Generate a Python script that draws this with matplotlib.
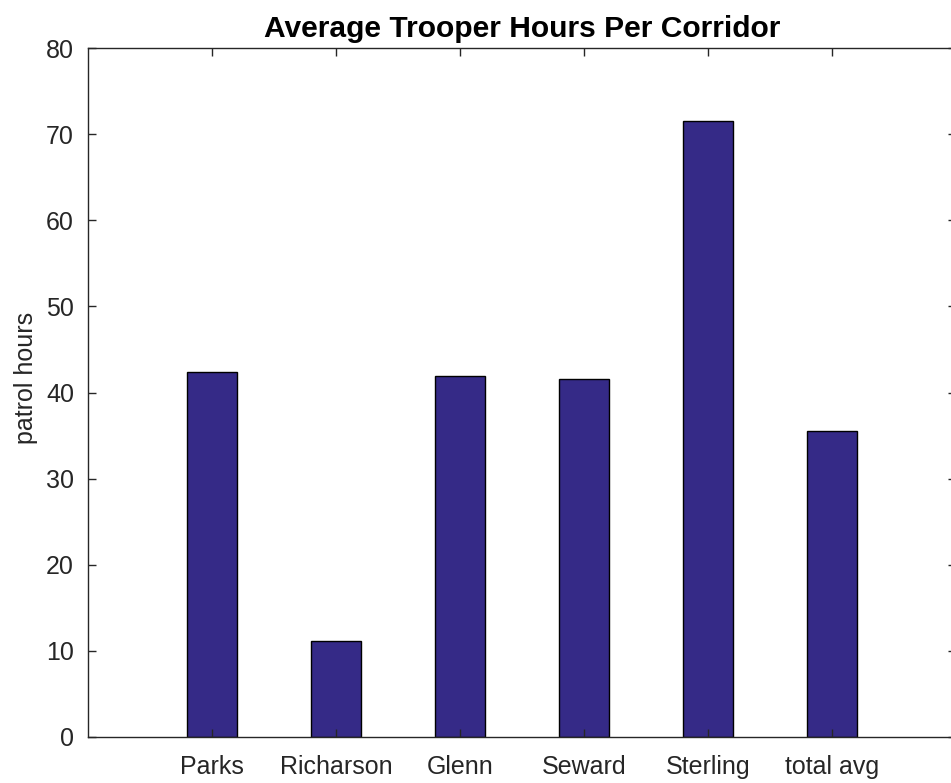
import matplotlib
matplotlib.use("Agg")
import matplotlib.pyplot as plt

categories = ["Parks", "Richarson", "Glenn", "Seward", "Sterling", "total avg"]
hours = [42.35, 11.18, 41.88, 41.6, 71.56, 35.57]
yticks = [0, 10, 20, 30, 40, 50, 60, 70, 80]

plt.rcParams['font.family'] = ['Liberation Sans', 'DejaVu Sans']
fig = plt.figure(figsize=(9.51, 7.83), dpi=100)
ax = fig.add_axes([88/951, 1-737/783, 868/951, 689/783])
pos = list(range(1, len(categories)+1))
ax.bar(pos, hours, width=0.4, color='#352A87', edgecolor='black', linewidth=1.0)
ax.set_xlim(0, 7)
ax.set_ylim(0, 80)
ax.set_xticks(pos)
ax.set_xticklabels(categories)
ax.set_yticks(yticks)
tc = '#262626'
ax.tick_params(axis='both', direction='in', length=6, width=1, colors=tc,
               labelsize=18, top=True, right=True, pad=10)
ax.tick_params(axis='x', pad=13)
for s in ax.spines.values():
    s.set_color(tc)
    s.set_linewidth(1.0)
ax.set_ylabel("patrol hours", fontsize=18, color=tc)
ax.yaxis.set_label_coords(-0.0576, 0.521)
ax.set_title("Average Trooper Hours Per Corridor", fontsize=21.6, fontweight='bold', color='black', pad=8)
fig.savefig("out.png", dpi=100)
